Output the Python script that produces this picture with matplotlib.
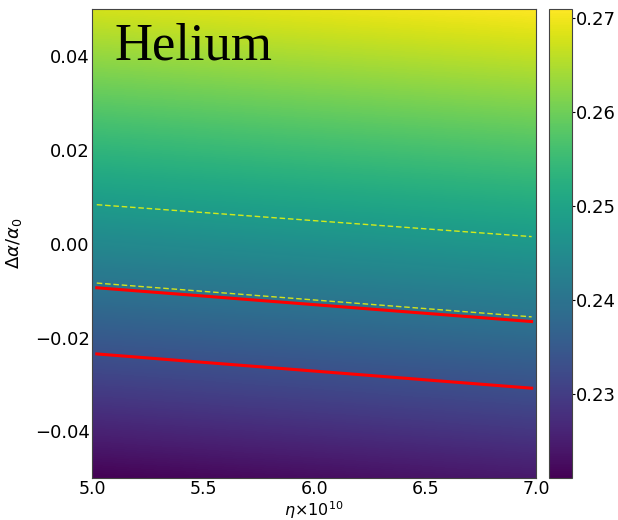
import numpy as np
import matplotlib
matplotlib.use("Agg")
import matplotlib.pyplot as plt

# helium abundance Yp, rows = delta alpha / alpha0, cols = eta x 1e10
eta_pts = np.array([5.0, 6.0, 7.0])
dalpha_pts = np.array([-0.05, -0.025, 0.0, 0.025, 0.05])
yp_grid = np.array([
    [0.2210, 0.2226, 0.2243],
    [0.2327, 0.2343, 0.2360],
    [0.2444, 0.2460, 0.2477],
    [0.2560, 0.2577, 0.2593],
    [0.2677, 0.2693, 0.2710],
])

# bound lines (eta, delta alpha) at the two ends
line_eta = [5.02, 6.98]
red_upper = [-0.0094, -0.0166]
red_lower = [-0.0235, -0.0308]
yel_upper = [0.0083, 0.0015]
yel_lower = [-0.0084, -0.0156]

cbar_ticks = [0.23, 0.24, 0.25, 0.26, 0.27]
x_ticks = [5.0, 5.5, 6.0, 6.5, 7.0]
y_ticks = [-0.04, -0.02, 0.00, 0.02, 0.04]

fig = plt.figure(figsize=(6.18, 5.2), dpi=100)
ax = fig.add_axes([0.1494, 0.0802, 0.718, 0.9025])
cax = fig.add_axes([0.8888, 0.0802, 0.0362, 0.9025])

de = eta_pts[1] - eta_pts[0]
da = dalpha_pts[1] - dalpha_pts[0]
ext = [eta_pts[0] - de / 2, eta_pts[-1] + de / 2,
       dalpha_pts[0] - da / 2, dalpha_pts[-1] + da / 2]
im = ax.imshow(yp_grid, origin="lower", extent=ext, aspect="auto",
               cmap="viridis", interpolation="bilinear",
               interpolation_stage="data", vmin=0.2210, vmax=0.2710)
ax.set_xlim(5.0, 7.0)
ax.set_ylim(-0.05, 0.05)

ax.plot(line_eta, yel_upper, color="yellow", ls="--", lw=1.0, dashes=(4, 2), alpha=0.8)
ax.plot(line_eta, yel_lower, color="yellow", ls="--", lw=1.0, dashes=(4, 2), alpha=0.8)
ax.plot(line_eta, red_upper, color="red", lw=2.2)
ax.plot(line_eta, red_lower, color="red", lw=2.2)

ax.text(0.05, 0.893, "Helium", transform=ax.transAxes, fontsize=38,
        family="Liberation Serif", va="baseline", ha="left")

ax.set_xticks(x_ticks)
ax.set_xticklabels(["%.1f" % t for t in x_ticks])
ax.set_yticks(y_ticks)
ax.set_yticklabels(["\u2212%.2f" % -t if t < 0 else "%.2f" % t for t in y_ticks])
ax.tick_params(length=0, pad=2, labelsize=13)
ax.tick_params(axis="x", pad=1, labelsize=12.5)
ax.set_xlabel(r"$\eta{\times}10^{10}$", fontsize=11.5)
ax.xaxis.set_label_coords(0.5, -0.044)
ax.set_ylabel(r"$\Delta\alpha/\alpha_0$", fontsize=13)
ax.yaxis.set_label_coords(-0.153, 0.5)
for s in ax.spines.values():
    s.set_color("#444444")

cb = fig.colorbar(im, cax=cax)
cb.set_ticks(cbar_ticks)
cb.ax.tick_params(length=2, pad=1, labelsize=13)
cb.outline.set_edgecolor("#444444")

fig.savefig("out.png", dpi=100)
